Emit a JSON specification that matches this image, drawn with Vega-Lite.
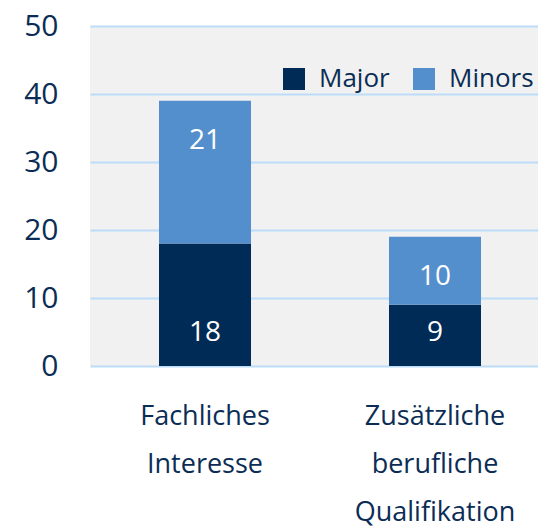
{
  "$schema": "https://vega.github.io/schema/vega-lite/v6.json",
  "autosize": "none",
  "width": 460,
  "height": 340,
  "padding": {"left": 90, "top": 26, "right": 0, "bottom": 162},
  "background": "white",
  "config": {
    "font": "Open Sans",
    "view": {"fill": "#f1f1f1", "stroke": null},
    "axis": {"labelColor": "#0b2d55", "labelFont": "Open Sans", "labelFontSize": 27, "domain": false, "ticks": false, "title": null}
  },
  "data": {
    "values": [
      {"cat": "Fachliches|Interesse", "type": "Major", "value": 18, "order": 1},
      {"cat": "Fachliches|Interesse", "type": "Minors", "value": 21, "order": 2},
      {"cat": "Zusätzliche|berufliche|Qualifikation", "type": "Major", "value": 9, "order": 1},
      {"cat": "Zusätzliche|berufliche|Qualifikation", "type": "Minors", "value": 10, "order": 2}
    ]
  },
  "encoding": {
    "x": {
      "field": "cat", "type": "nominal", "sort": null,
      "scale": {"paddingInner": 0.6, "paddingOuter": 0.3},
      "axis": {"labelAngle": 0, "labelExpr": "split(datum.value, '|')", "labelLineHeight": 48, "labelPadding": 37, "labelBaseline": "top", "grid": false}
    }
  },
  "layer": [
    {
      "mark": {"type": "bar"},
      "encoding": {
        "y": {
          "field": "value", "type": "quantitative", "stack": "zero",
          "scale": {"domain": [0, 50]},
          "axis": {"values": [0, 10, 20, 30, 40, 50], "grid": true, "gridColor": "#bddcf7", "gridWidth": 2, "gridOpacity": 1, "labelPadding": 32, "labelBaseline": "middle", "labelFontSize": 30}
        },
        "color": {
          "field": "type", "type": "nominal",
          "scale": {"domain": ["Major", "Minors"], "range": ["#002b57", "#548fcd"]},
          "legend": {
            "title": null, "orient": "none", "direction": "horizontal",
            "legendX": 191, "legendY": 40,
            "symbolType": "square", "symbolSize": 484, "symbolStrokeWidth": 0, "symbolOpacity": 1,
            "labelFontSize": 26, "labelColor": "#0b2d55", "labelFont": "Open Sans",
            "labelOffset": 12, "columnPadding": 21
          }
        },
        "order": {"field": "order"}
      }
    },
    {
      "transform": [{"filter": "datum.type == 'Major'"}],
      "mark": {"type": "text", "color": "white", "fontSize": 28, "baseline": "middle", "dy": -33},
      "encoding": {
        "y": {"datum": 0, "type": "quantitative"},
        "text": {"field": "value", "type": "quantitative"}
      }
    },
    {
      "transform": [
        {"joinaggregate": [{"op": "sum", "field": "value", "as": "total"}], "groupby": ["cat"]},
        {"filter": "datum.type == 'Minors'"}
      ],
      "mark": {"type": "text", "color": "white", "fontSize": 28, "baseline": "middle", "dy": 40},
      "encoding": {
        "y": {"field": "total", "type": "quantitative"},
        "text": {"field": "value", "type": "quantitative"}
      }
    }
  ]
}
